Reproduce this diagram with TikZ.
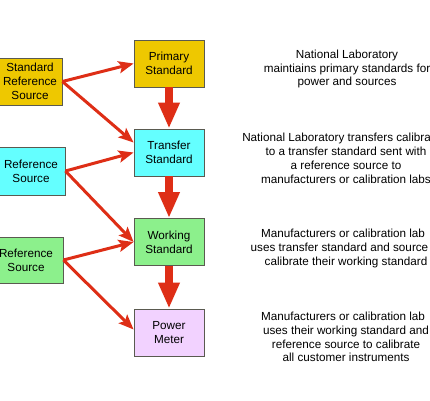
\documentclass[tikz,border=0pt]{standalone}
\usepackage{fontspec}
\setmainfont{Liberation Sans}
\usepackage{xcolor}
\usetikzlibrary{arrows.meta, positioning, calc}
\definecolor{primyellow}{RGB}{238,200,0}
\definecolor{transcyan}{RGB}{100,255,255}
\definecolor{workgreen}{RGB}{140,240,140}
\definecolor{meterlilac}{RGB}{242,210,255}
\definecolor{boxgray}{RGB}{90,90,80}
\definecolor{arrowred}{RGB}{222,46,22}

\begin{document}
\begin{tikzpicture}[x=1pt, y=-1pt,
        every node/.style={font=\fontsize{11.7}{13.8}\selectfont},
        box/.style={draw=boxgray, line width=0.8pt, align=center, inner sep=0pt,
            minimum width=70pt, minimum height=47pt},
        note/.style={align=center, inner sep=0pt},
        feed/.style={draw=arrowred, line width=3pt, -{Stealth[length=15pt,width=12pt,inset=3pt]}},
        flow/.style={draw=arrowred, line width=8pt, -{Triangle[length=26pt,width=20pt]}}]
    \useasboundingbox (0,0) rectangle (430,400);

    % chain of standards
    \node[box, fill=primyellow] (primary) at (169,63.5) {Primary\\Standard};
    \node[box, fill=transcyan] (transfer) at (169,152.5) {Transfer\\Standard};
    \node[box, fill=workgreen] (working) at (169,242) {Working\\Standard};
    \node[box, fill=meterlilac] (meter) at (169,332.5) {Power\\Meter};

    % sources
    \node[box, fill=primyellow, minimum width=64pt] (stdsrc) at (30,81.5) {Standard\\Reference\\Source};
    \node[box, fill=transcyan, minimum width=68pt, minimum height=48pt] (refsrcA) at (31,171) {Reference\\Source};
    \node[box, fill=workgreen, minimum width=74pt, minimum height=46pt] (refsrcB) at (26,260) {Reference\\Source};

    \draw[flow] (primary) -- (transfer);
    \draw[flow] (transfer) -- (working);
    \draw[flow] (working) -- (meter);

    \draw[feed] (stdsrc.east) -- (primary.west);
    \draw[feed] (stdsrc.east) -- ($(transfer.west)+(0,-10)$);
    \draw[feed] (refsrcA.east) -- (transfer.west);
    \draw[feed] (refsrcA.east) -- (working.west);
    \draw[feed] (refsrcB.east) -- (working.west);
    \draw[feed] (refsrcB.east) -- ($(meter.west)+(0,-3)$);

    % explanations
    \node[note] (noteA) at (347,69) {National Laboratory\\maintiains primary standards for\\power and sources};
    \node[note] (noteB) at (346,158.5) {National Laboratory transfers calibra\hphantom{tion}\\to a transfer standard sent with\\a reference source to\\manufacturers or calibration labs};
    \node[note] (noteC) at (346,248.5) {Manufacturers or calibration lab\hphantom{s}\\uses transfer standard and source\hphantom{\ to}\\calibrate their working standard};
    \node[note] (noteD) at (346,337) {Manufacturers or calibration lab\hphantom{s}\\uses their working standard and\\reference source to calibrate\\all customer instruments};
\end{tikzpicture}
\end{document}
